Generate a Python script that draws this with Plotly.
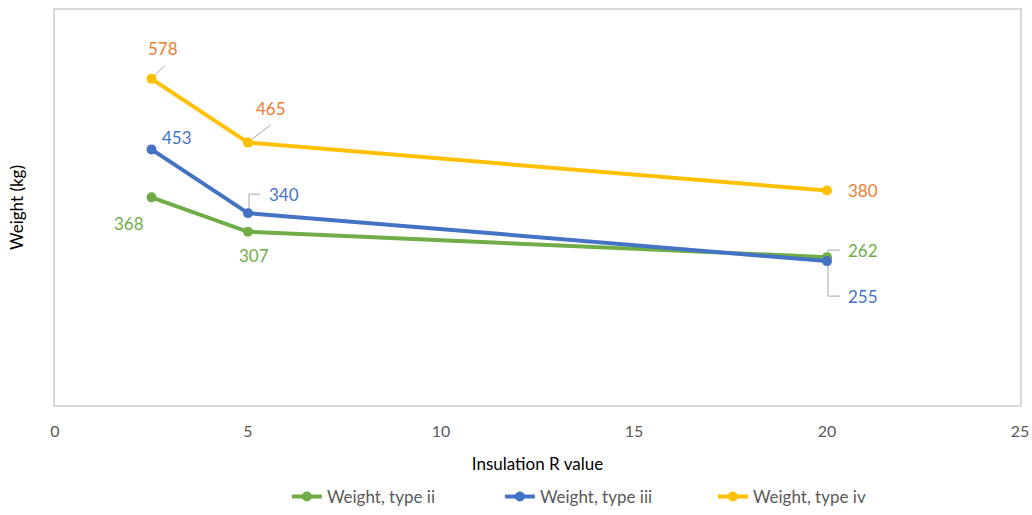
import plotly.graph_objects as go

# ---- data ----
r_values = [2.5, 5, 20]
weight_ii = [368, 307, 262]
weight_iii = [453, 340, 255]
weight_iv = [578, 465, 380]
series_names = ["Weight, type ii", "Weight, type iii", "Weight, type iv"]
x_ticks = [0, 5, 10, 15, 20, 25]

# ---- styles ----
line_colors = ["#70AD47", "#4472C4", "#FFC000"]
label_colors = ["#70AD47", "#4472C4", "#ED7D31"]
FONT = "Lato, 'Open Sans', sans-serif"
LEADER = "#A6A6A6"

# label offsets (pixels) per series/point: (xshift, yshift, leader path or None)
label_offsets = [
    [(-23, -26, None), (6, -24, None), (36, 7, "M 1,0 L 1,7 L 13,7")],
    [(25, 12, None), (36, 19, "M 1,2 L 1,19 L 12,19"), (36, -35, "M 1,0 L 1,-35 L 13,-35")],
    [(11, 30, "M 2,2 L 13,13"), (23, 34, "M 2,2 L 23,18"), (36, 0, None)],
]

series_values = [weight_ii, weight_iii, weight_iv]

fig = go.Figure()
annotations = []
shapes = []
for i, (name, vals) in enumerate(zip(series_names, series_values)):
    fig.add_trace(go.Scatter(
        x=r_values, y=vals, name=name, mode="lines+markers",
        line=dict(color=line_colors[i], width=4),
        marker=dict(color=line_colors[i], size=10),
    ))
    for j, (xv, yv) in enumerate(zip(r_values, vals)):
        dx, dy, path = label_offsets[i][j]
        annotations.append(dict(
            x=xv, y=yv, xref="x", yref="y", text=str(yv), showarrow=False,
            xshift=dx, yshift=dy,
            font=dict(family=FONT, size=17, color=label_colors[i]),
        ))
        if path:
            shapes.append(dict(
                type="path", xref="x", yref="y", xsizemode="pixel", ysizemode="pixel",
                xanchor=xv, yanchor=yv, path=path,
                line=dict(color=LEADER, width=1), layer="below",
            ))

fig.update_layout(
    width=1032, height=515,
    margin=dict(l=55, r=12, t=10, b=110, autoexpand=False),
    paper_bgcolor="white", plot_bgcolor="white",
    font=dict(family=FONT, size=16, color="#595959"),
    annotations=annotations,
    shapes=shapes,
    showlegend=True,
    legend=dict(orientation="h", xref="container", yref="container",
                x=0.278, xanchor="left", y=0.035, yanchor="middle",
                font=dict(family=FONT, size=17, color="#595959"),
                entrywidth=168, entrywidthmode="pixels", tracegroupgap=0),
)
fig.update_xaxes(
    range=[0, 25], tickvals=x_ticks, ticktext=[str(t) for t in x_ticks],
    showgrid=False, zeroline=False, showline=True, mirror=True,
    linecolor="#D9D9D9", linewidth=2, ticks="", ticklen=0, ticklabelstandoff=11,
    automargin=False,
    tickfont=dict(family=FONT, size=16, color="#595959"),
    title=dict(text="Insulation R value", standoff=19,
               font=dict(family=FONT, size=17, color="#000000")),
)
fig.update_yaxes(
    range=[0, 700], showticklabels=False, showgrid=False, zeroline=False,
    showline=True, mirror=True, linecolor="#D9D9D9", linewidth=2, ticks="",
    automargin=False,
    title=dict(text="Weight (kg)", standoff=25,
               font=dict(family=FONT, size=17, color="#000000")),
)

fig.write_html("out.html")
